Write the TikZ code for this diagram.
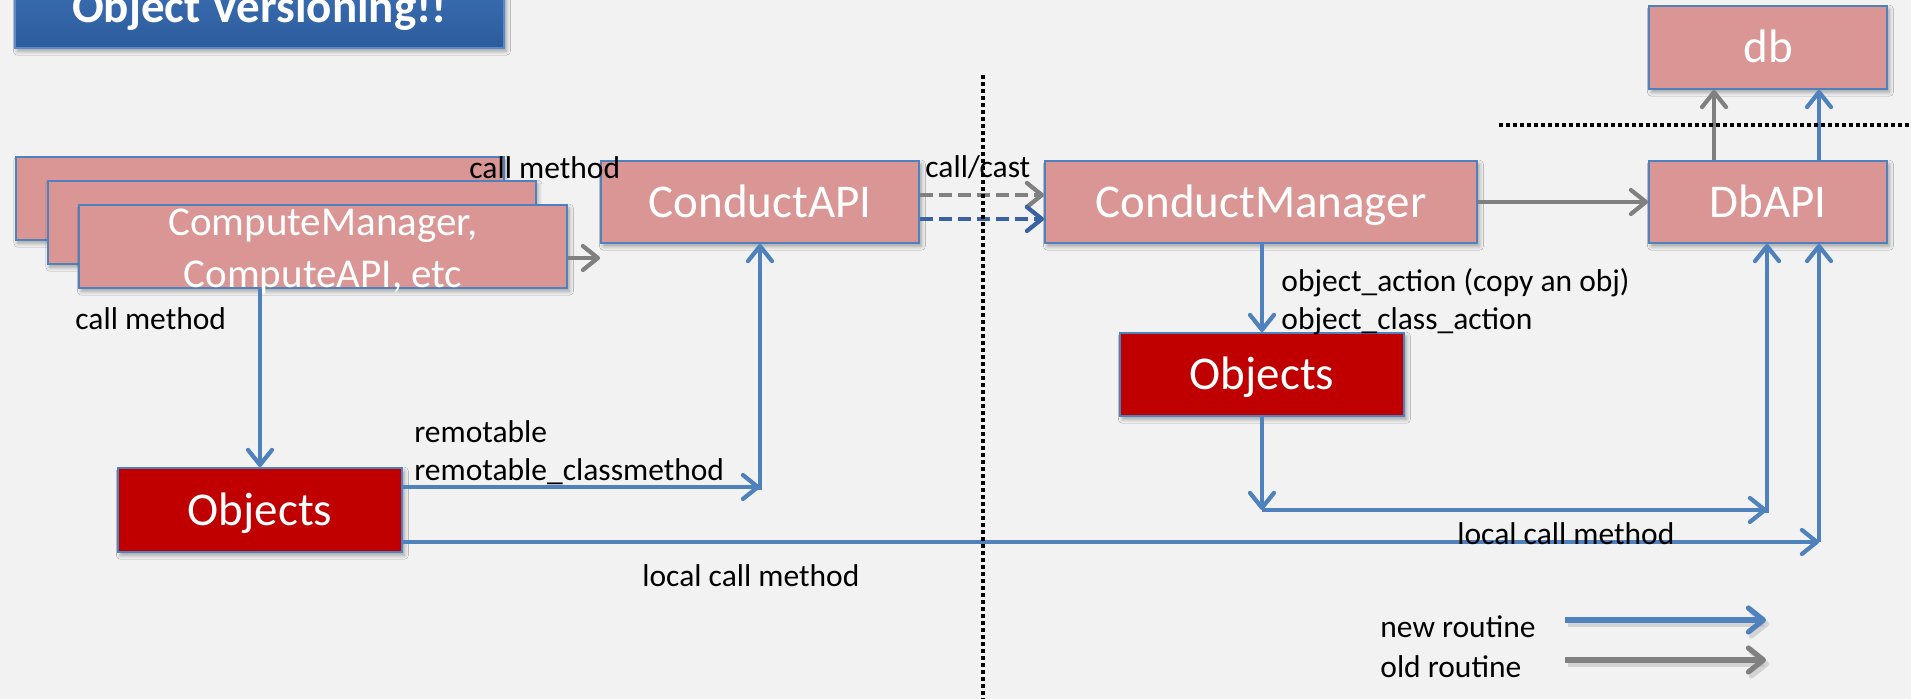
\documentclass[tikz,border=0pt]{standalone}
\usepackage{fontspec}
\setmainfont{Carlito}
\usetikzlibrary{arrows.meta,shadows.blur}

\definecolor{pagebg}{HTML}{F2F2F2}
\definecolor{boxpink}{HTML}{D99694}
\definecolor{boxedge}{HTML}{4F81BD}
\definecolor{objred}{HTML}{C00000}
\definecolor{newblue}{HTML}{4F81BD}
\definecolor{darkblue}{HTML}{3A62A0}
\definecolor{oldgray}{HTML}{808080}
\definecolor{titletop}{HTML}{4279C2}
\definecolor{titlebot}{HTML}{2D5C9C}
\definecolor{titleedge}{HTML}{5B8ACB}

\tikzset{
  boxshadow/.style={blur shadow={shadow xshift=1.2pt,shadow yshift=-1.6pt,
      shadow blur radius=2pt,shadow opacity=35}},
  pbox/.style={draw=boxedge,line width=1pt,fill=boxpink,text=white,inner sep=0pt,
      font=\fontsize{23.5}{28}\selectfont,text height=15.1pt,text depth=0pt,boxshadow},
  objbox/.style={pbox,fill=objred},
  compbox/.style={pbox,minimum width=244pt,minimum height=41.5pt},
  lbl/.style={font=\fontsize{15.75}{18.5}\selectfont,inner sep=0pt,text=black},
  tipstyle/.style={-{Straight Barb[round,length=7.5pt,width=12pt]}},
  newarrow/.style={draw=newblue,line width=2.1pt,tipstyle},
  oldarrow/.style={draw=oldgray,line width=2.1pt,tipstyle},
  dashpat/.style={dash pattern=on 6.5pt off 3pt},
  sepline/.style={draw=black,line width=2.2pt,dash pattern=on 1.9pt off 1.6pt},
  legarrow/.style={line width=2.6pt,tipstyle},
}

\begin{document}
\begin{tikzpicture}[x=0.5pt,y=-0.5pt]
  \clip (0,0) rectangle (1911,699);
  \fill[pagebg] (0,0) rectangle (1911,699);

  % heading banner
  \node[draw=titleedge,line width=0.8pt,top color=titletop,bottom color=titlebot,
        minimum width=244.5pt,minimum height=54pt,inner sep=0pt,boxshadow]
        (titlebox) at (259.5,-6) {};
  \node[anchor=base,text=white,inner sep=0pt,font=\bfseries\fontsize{23.5}{28}\selectfont]
        (titletext) at (259.5,23) {Object Versioning!!};

  % stacked compute services
  \node[compbox] (back) at (259.5,198.5) {};
  \node[compbox] (middle) at (291.5,222.5) {};
  \node[compbox] (front) at (323,246.5) {};
  \node[align=center,text=white,inner sep=0pt,font=\fontsize{20.5}{26}\selectfont]
        (fronttext) at (323,252) {ComputeManager,\\ComputeAPI, etc};

  % services
  \node[pbox,minimum width=159pt,minimum height=41pt] (capi) at (760,202) {ConductAPI};
  \node[pbox,minimum width=216pt,minimum height=41pt] (cmgr) at (1261,202) {ConductManager};
  \node[pbox,minimum width=119pt,minimum height=41pt] (dbapi) at (1768,202) {DbAPI};
  \node[pbox,minimum width=119pt,minimum height=41.5pt] (db) at (1768,47.5) {db};
  \node[objbox,minimum width=142pt,minimum height=42pt] (obj1) at (260,510) {Objects};
  \node[objbox,minimum width=142pt,minimum height=41.5pt] (obj2) at (1262,374.5) {Objects};

  % compute side connectors
  \coordinate (cmTip) at (600,258);
  \draw[oldarrow] (front.east |- cmTip) -- (cmTip);
  \draw[newarrow] (front.south -| obj1.north) -- (obj1.north);
  \coordinate (remCorner) at (760,487);
  \draw[newarrow] (obj1.east |- remCorner) -- (remCorner);
  \draw[newarrow] ([yshift=-1.5pt]remCorner) -- (capi.south);
  \coordinate (longCorner) at (1819,542);
  \draw[newarrow] (obj1.east |- longCorner) -- (longCorner);

  % rpc between the two sides
  \draw[oldarrow,dashpat] ([yshift=3.5pt]capi.east) -- ([yshift=3.5pt]cmgr.west);
  \draw[draw=darkblue,line width=2.1pt,tipstyle,dashpat]
        ([yshift=-8.5pt]capi.east) -- ([yshift=-8.5pt]cmgr.west);

  % conductor side connectors
  \draw[oldarrow] (cmgr.east) -- (dbapi.west);
  \draw[oldarrow] ([xshift=-27pt]dbapi.north) -- ([xshift=-27pt]db.south);
  \draw[newarrow] ([xshift=25.5pt]dbapi.north) -- ([xshift=25.5pt]db.south);
  \draw[newarrow] (cmgr.south -| obj2.north) -- (obj2.north);
  \coordinate (locCorner) at (1262,510);
  \coordinate (locEnd) at (1767,510);
  \draw[newarrow] (obj2.south) -- (locCorner);

  % labels
  \node[lbl,anchor=base west] (lblcall) at (469,179) {call method};
  \node[lbl,anchor=base west] (lblcalldown) at (75,330) {call method};
  \node[lbl,anchor=base west] (lblcast) at (925,178) {call/cast};
  \node[lbl,anchor=base west] (lblrem) at (414,443) {remotable};
  \node[lbl,anchor=base west] (lblremcls) at (414,481) {remotable\_classmethod};
  \node[lbl,anchor=base west] (lbllocal) at (642,587) {local call method};
  \node[lbl,anchor=base west] (lblact) at (1281,292) {object\_action (copy an obj)};
  \node[lbl,anchor=base west] (lblclsact) at (1281,330) {object\_class\_action};
  \node[lbl,anchor=base west] (lbllocal2) at (1457,545) {local call method};

  % lines drawn over the lower label
  \draw[newarrow] (locCorner) -- (locEnd);
  \draw[newarrow] ([yshift=-1.5pt]locEnd) -- (locEnd |- dbapi.south);
  \draw[newarrow] (longCorner) -- (longCorner |- dbapi.south);

  % boundaries
  \coordinate (sepTop) at (983,75);
  \coordinate (sepBot) at (983,699);
  \draw[sepline] (sepTop) -- (sepBot);
  \coordinate (dbSepL) at (1499,125);
  \coordinate (dbSepR) at (1911,125);
  \draw[sepline] (dbSepL) -- (dbSepR);

  % legend
  \node[lbl,anchor=base west] (lgnew) at (1380,637) {new routine};
  \node[lbl,anchor=base west] (lgold) at (1380,677) {old routine};
  \coordinate (newA) at (1565,620);
  \coordinate (newB) at (1766,620);
  \coordinate (oldA) at (1565,660);
  \coordinate (oldB) at (1766,660);
  \draw[legarrow,draw=black!35,opacity=0.4] ([xshift=1.5pt,yshift=-2pt]newA) -- ([xshift=1.5pt,yshift=-2pt]newB);
  \draw[legarrow,draw=black!35,opacity=0.4] ([xshift=1.5pt,yshift=-2pt]oldA) -- ([xshift=1.5pt,yshift=-2pt]oldB);
  \draw[legarrow,draw=newblue] (newA) -- (newB);
  \draw[legarrow,draw=oldgray] (oldA) -- (oldB);
\end{tikzpicture}
\end{document}
